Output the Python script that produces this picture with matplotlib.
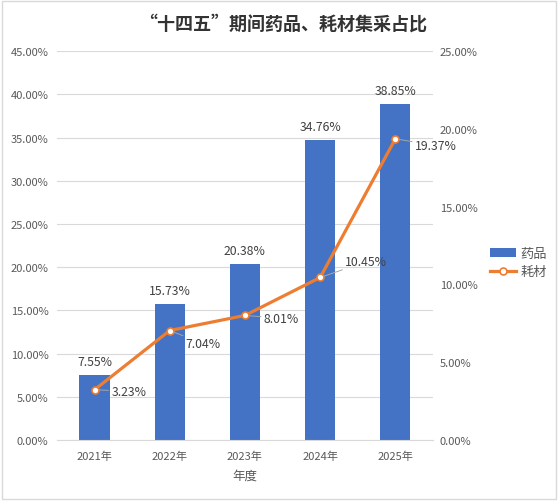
import matplotlib.pyplot as plt
from matplotlib.patches import Rectangle
from matplotlib.ticker import PercentFormatter

plt.rcParams['font.family'] = ['Noto Sans CJK SC', 'DejaVu Sans']

years = ['2021年', '2022年', '2023年', '2024年', '2025年']
drug = [7.55, 15.73, 20.38, 34.76, 38.85]
consumable = [3.23, 7.04, 8.01, 10.45, 19.37]

blue = '#4472C4'
orange = '#ED7D31'
grey = '#595959'

fig = plt.figure(figsize=(5.58, 5.02), dpi=100)
fig.patches.append(Rectangle((0.004, 0.004), 0.992, 0.992, transform=fig.transFigure,
                             fill=False, edgecolor='#D9D9D9', linewidth=1))

ax = fig.add_axes([0.102, 0.1215, 0.674, 0.7745])
x = range(len(years))
ax.bar(x, drug, width=0.4, color=blue, zorder=2, label='药品')
ax.set_xlim(-0.5, 4.5)
ax.set_ylim(0, 45)
ax.set_yticks(range(0, 46, 5))
ax.yaxis.set_major_formatter(PercentFormatter(decimals=2))
ax.grid(axis='y', color='#D9D9D9', linewidth=0.8, zorder=0)
ax.set_xticks(list(x))
ax.set_xticklabels(years)
for s in ['top', 'right', 'left']:
    ax.spines[s].set_visible(False)
ax.spines['bottom'].set_color('#D9D9D9')
ax.tick_params(length=0, labelsize=8, colors=grey, pad=6)
ax.tick_params(axis='x', pad=8)
ax.set_xlabel('年度', fontsize=9, color=grey, labelpad=5)

for i, v in enumerate(drug):
    ax.annotate(f'{v:.2f}%', (i, v), xytext=(0, 5), textcoords='offset points',
                ha='center', va='bottom', fontsize=8.8, color='#404040')

ax2 = ax.twinx()
ax2.plot(x, consumable, color=orange, linewidth=2.3, marker='o', markersize=5,
         markerfacecolor='white', markeredgecolor=orange, markeredgewidth=1.2,
         zorder=3, label='耗材')
ax2.set_ylim(0, 25)
ax2.set_yticks(range(0, 26, 5))
ax2.yaxis.set_major_formatter(PercentFormatter(decimals=2))
for s in ax2.spines.values():
    s.set_visible(False)
ax2.tick_params(length=0, labelsize=8, colors=grey, pad=5)

offsets = [(12, -1), (11.5, -9.5), (13.5, -2), (18, 11.5), (14, -5)]
for i, v in enumerate(consumable):
    dx, dy = offsets[i]
    ax2.annotate(f'{v:.2f}%', (i, v), xytext=(dx, dy), textcoords='offset points',
                 ha='left', va='center', fontsize=8.8, color='#404040',
                 arrowprops=dict(arrowstyle='-', color='#A6A6A6', linewidth=0.7,
                                 shrinkA=0, shrinkB=3))

h1, l1 = ax.get_legend_handles_labels()
h2, l2 = ax2.get_legend_handles_labels()
fig.legend(h1 + h2, l1 + l2, loc='center left', bbox_to_anchor=(0.866, 0.475),
           frameon=False, fontsize=9.5, handlelength=2.0, labelcolor=grey,
           handletextpad=0.3, borderpad=0, labelspacing=0.4)

fig.text(0.507, 0.953, '“十四五”期间药品、耗材集采占比', ha='center', va='center',
         fontsize=13, fontweight='bold', color='#333333')

fig.savefig('out.png', dpi=100)
